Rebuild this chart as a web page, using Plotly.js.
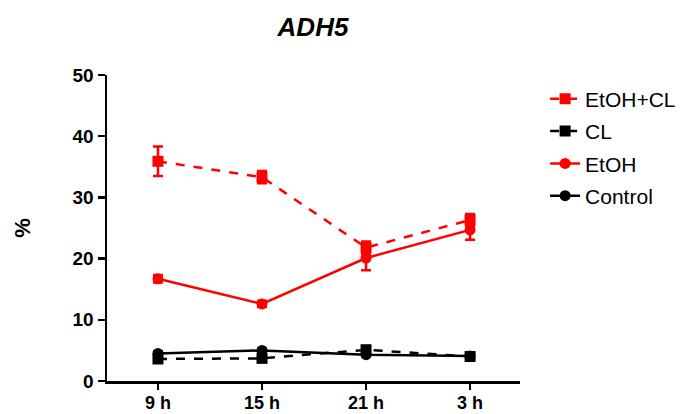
<!DOCTYPE html>
<html>
<head>
<meta charset="utf-8">
<script src="https://cdn.plot.ly/plotly-3.0.1.min.js"></script>
<style>html,body{margin:0;padding:0;background:#fff;}#chart{width:690px;height:414px;}</style>
</head>
<body>
<div id="chart"></div>
<script>
const categories = ["9 h", "15 h", "21 h", "3 h"];
const etohClMean = [35.9, 33.3, 21.8, 26.3];
const etohClErr  = [2.4, 1.0, 1.0, 1.0];
const clMean = [3.6, 3.7, 5.1, 4.0];
const clErr  = [0.3, 0.3, 0.6, 0.3];
const etohMean = [16.7, 12.6, 20.1, 24.7];
const etohErr  = [0.6, 0.5, 2.0, 1.6];
const controlMean = [4.5, 5.0, 4.3, 4.1];
const controlErr  = [0.3, 0.3, 0.3, 0.3];
const yTicks = [0, 10, 20, 30, 40, 50];

const RED = "#ff0000", BLACK = "#000000";
function tr(name, y, err, color, dash, symbol, group) {
  return {
    type: "scatter", mode: "lines+markers", name: name,
    x: categories, y: y, legendgroup: group,
    line: {color: color, width: 2.5, dash: dash},
    marker: {color: color, symbol: symbol, size: 11},
    error_y: {type: "data", array: err, visible: true, color: color, thickness: 2.5, width: 5},
    cliponaxis: false
  };
}
const data = [
  tr("EtOH+CL", etohClMean, etohClErr, RED, "dash", "square", "a"),
  tr("CL", clMean, clErr, BLACK, "dash", "square", "b"),
  tr("EtOH", etohMean, etohErr, RED, "solid", "circle", "c"),
  tr("Control", controlMean, controlErr, BLACK, "solid", "circle", "d")
];
const layout = {
  width: 690, height: 414,
  margin: {l: 107, r: 170, t: 75, b: 33, autoexpand: false},
  paper_bgcolor: "#fff", plot_bgcolor: "#fff",
  font: {family: "Liberation Sans, Arial, sans-serif", color: "#000"},
  title: {text: "<b><i>ADH5</i></b>", font: {size: 26}, x: 0.4536, xanchor: "center", y: 0.935, yanchor: "middle"},
  showlegend: true,
  legend: {xref: "container", yref: "container", x: 0.79, y: 0.81, xanchor: "left", yanchor: "top", font: {size: 21}, traceorder: "grouped", tracegroupgap: 2, bgcolor: "rgba(0,0,0,0)"},
  xaxis: {
    type: "category", range: [-0.49, 3.48], showgrid: false, zeroline: false,
    showline: true, linecolor: "#000", linewidth: 2.5,
    ticks: "outside", ticklen: 6, tickwidth: 2.5, tickcolor: "#000",
    tickfont: {size: 18, family: "Liberation Sans, Arial, sans-serif"}, tickprefix: "<b>", ticksuffix: "</b>",
    ticklabelstandoff: -2,
    automargin: false
  },
  yaxis: {
    range: [0, 50], tickvals: yTicks, ticktext: yTicks.map(v => "<b>" + v + "</b>"),
    showgrid: false, zeroline: false,
    showline: true, linecolor: "#000", linewidth: 2.5,
    ticks: "outside", ticklen: 7, tickwidth: 2.5, tickcolor: "#000",
    tickfont: {size: 19}, automargin: false,
    title: {text: "<b>%</b>", font: {size: 22}, standoff: 36}
  }
};
Plotly.newPlot("chart", data, layout, {displayModeBar: false, staticPlot: true});
</script>
</body>
</html>
